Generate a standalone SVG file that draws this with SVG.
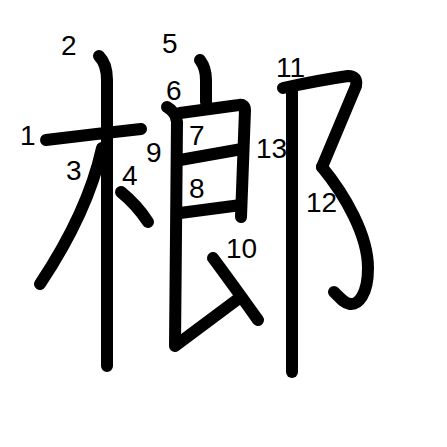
<svg xmlns="http://www.w3.org/2000/svg" width="447" height="447" viewBox="0 0 447 447">
<style>
.s{fill:none;stroke:#000;stroke-width:12;stroke-linecap:round;stroke-linejoin:round}
.n{font-family:"Liberation Sans",Arial,sans-serif;font-size:28px;fill:#000}
</style>
<rect width="447" height="447" fill="#fff"/>
<g id="strokes">
<path id="s1" class="s" d="M46,140 Q95,134 141,129"/>
<path id="s2" class="s" d="M99,56 Q107,64 107,80 L107,366"/>
<path id="s3" class="s" d="M102,148 Q88,212 40,284"/>
<path id="s4" class="s" d="M121,192 Q137,205 148,222"/>
<path id="s5" class="s" d="M200,60 Q206,68 206,80 L206,102"/>
<path id="s6" class="s" d="M167,107 Q176,112 177,122 L175,346 L238,299"/>
<path id="s7" class="s" d="M180,113 L239,105 Q245,104 245,110 L241,217"/>
<path id="s8" class="s" d="M180,160 L242,149"/>
<path id="s9" class="s" d="M180,213 L241,205"/>
<path id="s10" class="s" d="M213,258 Q228,278 258,320"/>
<path id="s11" class="s" d="M283,88 Q320,80 348,76 Q358,76 356,86 L322,167"/>
<path id="s12" class="s" d="M322,167 C345,195 368,235 368,268 C368,295 358,305 350,304 C344,303 339,297 334,292"/>
<path id="s13" class="s" d="M292,90 L292,372"/>
</g>
<g id="labels">
<text class="n" x="20" y="145">1</text>
<text class="n" x="61" y="55">2</text>
<text class="n" x="66" y="180">3</text>
<text class="n" x="122" y="185">4</text>
<text class="n" x="162" y="53">5</text>
<text class="n" x="166" y="100">6</text>
<text class="n" x="189" y="145">7</text>
<text class="n" x="189" y="198">8</text>
<text class="n" x="146" y="162">9</text>
<text class="n" x="226" y="258">10</text>
<text class="n" x="276" y="77">11</text>
<text class="n" x="306" y="212">12</text>
<text class="n" x="256" y="158">13</text>
</g>
</svg>
